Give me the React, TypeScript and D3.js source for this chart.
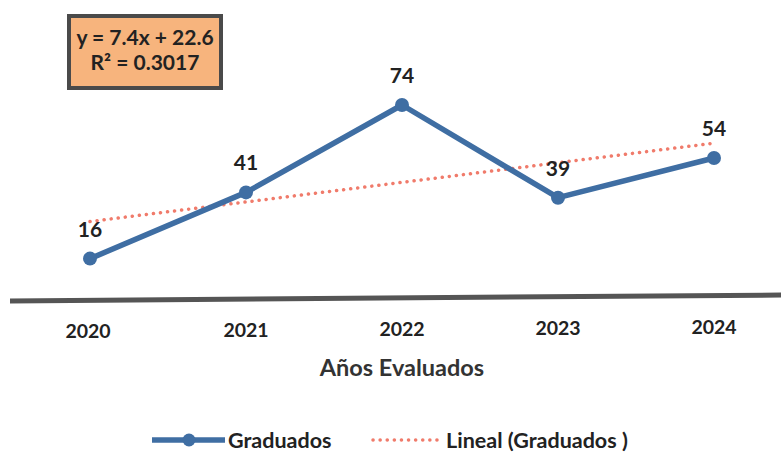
import React from "react";
import * as d3 from "d3";

const years = ["2020", "2021", "2022", "2023", "2024"];
const graduados = [16, 41, 74, 39, 54];
const slope = 7.4;
const intercept = 22.6;
const equationLines = ["y = 7.4x + 22.6", "R² = 0.3017"];
const axisTitle = "Años Evaluados";
const legendLabels = ["Graduados", "Lineal (Graduados )"];

const W = 781;
const H = 452;
const FONT = "Lato, 'Open Sans', sans-serif";
const BLUE = "#3F6EA3";
const TREND = "#F07B6B";

export default function App() {
  const x = d3.scalePoint<string>().domain(years).range([90, 714]);
  const y = d3.scaleLinear().domain([0, 74]).range([301, 105]);
  const line = d3
    .line<number>()
    .x((_, i) => x(years[i])!)
    .y((d) => y(d));
  const trendD = d3
    .line<number>()
    .x((k) => x(years[k - 1])!)
    .y((k) => y(slope * k + intercept))([1, 5]);

  return (
    <svg width={W} height={H} style={{ position: "absolute", left: 0, top: 0, background: "#fff" }}>
      <rect x={0} y={0} width={W} height={H} fill="#fff" />
      <line x1={10} x2={781} y1={y(0)} y2={y(0) - 6} stroke="#555" strokeWidth={5} />
      <path d={trendD!} fill="none" stroke={TREND} strokeWidth={3.5} strokeDasharray="0.1 7" strokeLinecap="round" />
      <path d={line(graduados)!} fill="none" stroke={BLUE} strokeWidth={5.5} strokeLinejoin="round" />
      {graduados.map((v, i) => (
        <circle key={i} cx={x(years[i])} cy={y(v)} r={7} fill={BLUE} />
      ))}
      {graduados.map((v, i) => (
        <text key={"l" + i} x={x(years[i])} y={y(v) - 22} textAnchor="middle" fontFamily={FONT} fontWeight={700} fontSize={21} fill="#222">
          {v}
        </text>
      ))}
      {years.map((yr, i) => (
        <text key={yr} x={x(yr)! + (i === 0 ? -2 : 0)} y={338 - i * 1} textAnchor="middle" fontFamily={FONT} fontWeight={700} fontSize={19.5} fill="#222">
          {yr}
        </text>
      ))}
      <text x={402} y={376} textAnchor="middle" fontFamily={FONT} fontWeight={700} fontSize={23.5} fill="#333">
        {axisTitle}
      </text>
      <rect x={69} y={16} width={152} height={72} fill="#F7B47D" stroke="#4a4a4a" strokeWidth={4} />
      {equationLines.map((t, i) => (
        <text key={t} x={145} y={45 + i * 25} textAnchor="middle" fontFamily={FONT} fontWeight={700} fontSize={21} fill="#222">
          {t}
        </text>
      ))}
      <line x1={152} x2={225} y1={440} y2={440} stroke={BLUE} strokeWidth={5.5} />
      <circle cx={189} cy={440} r={6.5} fill={BLUE} />
      <text x={228} y={448} fontFamily={FONT} fontWeight={700} fontSize={21.5} fill="#222">
        {legendLabels[0]}
      </text>
      <line x1={373} x2={437} y1={440} y2={440} stroke={TREND} strokeWidth={3.5} strokeDasharray="0.1 7" strokeLinecap="round" />
      <text x={446} y={448} fontFamily={FONT} fontWeight={700} fontSize={21.5} fill="#222">
        {legendLabels[1]}
      </text>
    </svg>
  );
}
